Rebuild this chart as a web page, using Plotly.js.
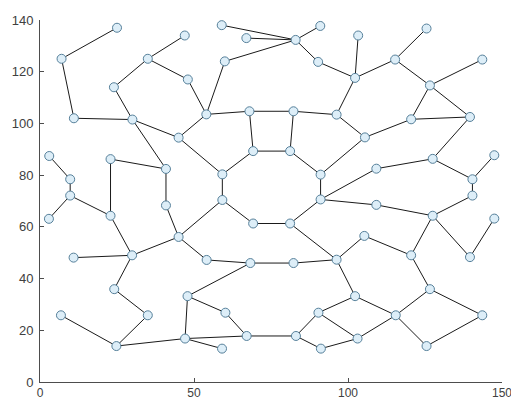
<!DOCTYPE html>
<html>
<head>
<meta charset="utf-8">
<script src="https://cdn.plot.ly/plotly-3.0.1.min.js"></script>
<style>html,body{margin:0;padding:0;background:#fff;}#chart{width:511px;height:402px;}</style>
</head>
<body>
<div id="chart"></div>
<script>
// Node coordinates
const nodeX = [25,7,47,35,59,67,60,24,48,11,
  30,54,68,45,83,91,90.3,103.3,102.3,115.3,
  125.5,126.6,143.6,82.3,96.3,105.5,120.5,139.6,3,9.8,
  9.8,2.9,22.9,40.9,22.9,40.9,59.2,69.2,59.2,69.2,
  45,29.9,10.9,54.1,68.3,81.2,91.1,91.1,109.2,127.5,
  147.5,140.4,140.4,109.2,127.5,147.5,139.6,81.2,105.3,120.5,
  96.3,82.3,24.1,6.8,35,24.8,47.9,60.2,67.1,47.1,
  59.1,102.3,90.4,115.5,126.6,143.6,83.1,103.1,91.2,125.5];
const nodeY = [137,125,134,125,138,133,124,114,117,102,
  101.5,103.5,104.7,94.5,132.3,137.7,123.8,134,117.6,124.7,
  136.7,114.7,124.7,104.7,103.4,94.6,101.6,102.5,87.4,78.4,
  72.1,63.1,86.2,82.4,64.3,68.3,80.3,89.3,70.4,61.3,
  56.1,49,48.1,47.2,46,89.3,80.2,70.6,82.5,86.3,
  87.7,78.4,72.1,68.5,64.3,63.2,48.3,61.3,56.5,49,
  47.3,46,35.9,25.8,25.8,13.9,33.2,26.8,17.8,16.8,
  12.9,33.2,26.8,25.8,35.9,25.8,17.8,16.8,12.9,13.9];
// Edges as pairs of node indices
const edgeFrom = [0,1,9,3,3,3,8,7,10,10,13,11,11,13,6,4,5,14,14,16,18,18,19,19,21,21,21,26,26,18,24,23,12,12,23,37,37,45,46,27,49,49,51,51,52,54,53,46,47,47,57,39,38,38,33,33,32,35,28,29,30,30,34,41,41,40,43,44,61,57,60,58,59,54,56,60,71,71,72,72,76,78,77,73,73,79,74,74,76,68,68,67,66,66,69,69,65,65,64,62];
const edgeTo   = [1,9,10,2,7,8,11,10,33,13,11,6,12,36,14,14,14,15,16,18,17,19,20,21,22,26,27,27,25,24,25,24,23,37,45,45,36,46,25,49,48,51,50,52,54,53,47,47,48,57,39,38,36,40,35,32,34,40,29,30,31,34,41,42,40,43,44,61,60,60,58,59,54,56,55,71,72,73,76,77,78,77,73,74,79,75,75,59,68,69,67,66,69,44,70,65,63,64,62,41];
const xTicks = [0, 50, 100, 150];
const yTicks = [0, 20, 40, 60, 80, 100, 120, 140];

const ex = [], ey = [];
for (let i = 0; i < edgeFrom.length; i++) {
  ex.push(nodeX[edgeFrom[i]], nodeX[edgeTo[i]], null);
  ey.push(nodeY[edgeFrom[i]], nodeY[edgeTo[i]], null);
}

const traces = [
  {x: ex, y: ey, mode: 'lines', type: 'scatter', line: {color: '#1a1a1a', width: 1}, hoverinfo: 'skip', cliponaxis: false},
  {x: nodeX, y: nodeY, mode: 'markers', type: 'scatter', cliponaxis: false,
   marker: {symbol: 'circle', size: 9, color: '#ddeef8', line: {color: '#56809a', width: 1}}}
];

const axisCommon = {
  showgrid: false, zeroline: false, showline: true, linecolor: '#4d4d4d', linewidth: 1,
  ticks: 'inside', ticklen: 4, tickcolor: '#4d4d4d', tickwidth: 1,
  ticklabeloverflow: 'allow', mirror: false
};

const layout = {
  width: 511, height: 402,
  margin: {l: 40, r: 9, t: 20, b: 20},
  paper_bgcolor: '#ffffff', plot_bgcolor: '#ffffff',
  showlegend: false,
  xaxis: Object.assign({}, axisCommon, {range: [0, 150], tickvals: xTicks, ticklabelstandoff: 0,
    tickfont: {family: 'Liberation Sans, Arial, sans-serif', size: 12, color: '#404040'}}),
  yaxis: Object.assign({}, axisCommon, {range: [0, 140], tickvals: yTicks, ticklabelstandoff: 3,
    tickfont: {family: 'Liberation Sans, Arial, sans-serif', size: 13, color: '#404040'}})
};

Plotly.newPlot('chart', traces, layout, {displayModeBar: false, staticPlot: true});
</script>
</body>
</html>
